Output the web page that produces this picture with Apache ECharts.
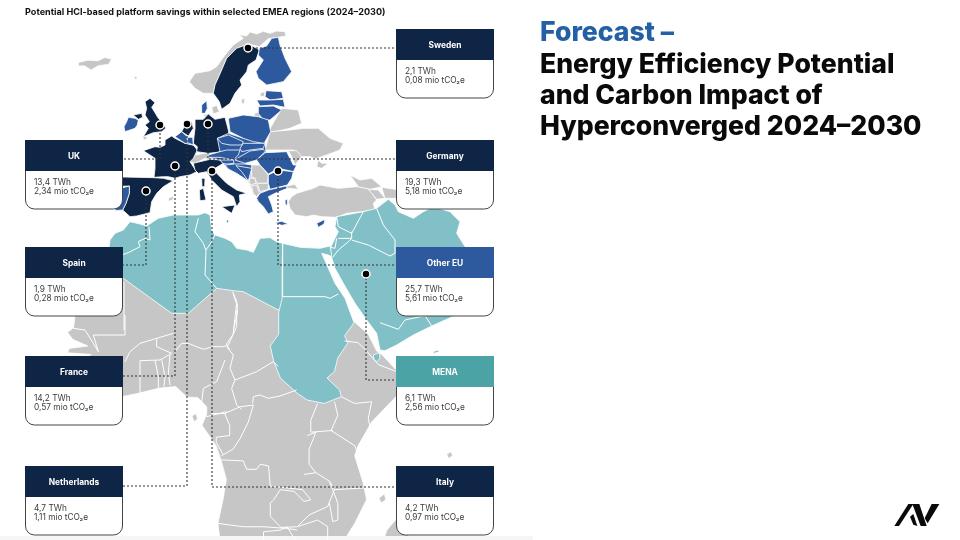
<!DOCTYPE html>
<html><head><meta charset="utf-8">
<style>html,body{margin:0;padding:0;background:#fff}#c{width:960px;height:540px}</style>
<script src="https://cdn.jsdelivr.net/npm/echarts@6/dist/echarts.min.js"></script></head>
<body><div id="c"></div>
<script>
// ---------- chart values ----------
const regions = ['Sweden','UK','Germany','Spain','Other EU','France','MENA','Netherlands','Italy'];
const twh     = ['2,1','13,4','19,3','1,9','25,7','14,2','6,1','4,7','4,2'];
const co2     = ['0,08','2,34','5,18','0,28','5,61','0,57','2,56','1,11','0,97'];
const chartTitle = 'Potential HCI-based platform savings within selected EMEA regions (2024–2030)';
const headline = ['Forecast –','Energy Efficiency Potential','and Carbon Impact of','Hyperconverged 2024–2030'];

// ---------- map geometry (hand traced, in map units) ----------
const crop=(ox,oy,s)=>(a)=>{const r=[];for(let i=0;i<a.length;i+=2)r.push([ox+a[i]/s,oy+a[i+1]/s]);return r;};
const Z1=crop(0,0,2.96),Z2=crop(0,270,2.96),E=crop(100,30,3),C=crop(200,100,3),A=crop(100,200,3),Q=crop(280,170,3),W=crop(60,310,3);
const gray=[
 Z1([232,185,260,178,290,180,310,170,330,175,322,190,290,195,270,207,250,195,232,195]),
 Z1([396,226,406,228,404,235,398,233]),
 E([340,190,310,190,285,175,268,155,285,130,330,122,350,110,375,75,400,45,430,25,418,14,440,18,450,6,470,12,490,4,510,10,530,3,555,5,558,18,535,22,505,26,478,50,445,42,410,55,380,85,365,120,345,165]),
 E([425,208,435,205,432,222,424,220]),E([482,188,495,185,492,200,480,198]),E([335,232,350,226,358,245,340,252]),E([310,255,330,250,330,258,315,260]),
 E([205,505,222,498,218,510,206,514]),E([128,318,142,322,138,330,130,328]),
 E([462,250,490,245,492,262,465,262]),
 E([265,395,285,375,325,368,345,378,335,390,315,385,285,400]),
 C([108,197,155,195,180,195,205,225,205,268,180,280,160,285,150,255,125,215]),
 C([205,95,245,25,295,30,305,70,270,85,225,95]),
 C([195,150,210,95,270,90,310,85,355,85,390,115,430,130,420,150,380,165,350,175,365,190,385,190,365,205,350,200,355,180,330,170,295,170,280,150,230,150]),
 C([265,152,290,152,305,170,285,195,275,170]),
 C([108,197,155,205,155,230,145,243,125,215]),
 C([155,195,180,195,205,225,202,250,170,250,165,235,155,230]),
 C([148,235,165,235,168,250,150,255]),C([155,258,170,255,178,280,170,290,160,280]),C([172,250,205,250,205,268,180,275]),
 C([258,258,285,253,295,268,262,265]),
 C([265,305,275,290,290,280,340,265,360,255,415,265,470,260,505,265,530,300,520,310,525,330,485,335,440,340,410,352,365,350,340,345,320,350,285,345,270,325]),
 C([450,225,480,240,515,235,545,260,510,268,475,260]),C([505,268,535,270,555,295,530,298]),C([545,262,600,270,600,295,555,295]),
 [...Z2([230,-30,222,135,218,170,200,185,215,205,260,225,205,232,200,245,270,250,250,260,250,372,360,375,410,365,470,350,520,345,553,376,586,378,612,405,612,425,598,460,640,520,655,565,670,620,660,680,645,750,655,830,1000,830,1050,750,1085,680,1075,630,1050,550,1060,520,1100,450,1172,375,1300,300,1250,285,1170,293,1130,250,1115,240,1090,190,1045,150,1030,150,950,0,830,-40])],
 Z2([568,432,580,425,585,440,575,450]),Z2([1322,545,1335,538,1340,550,1328,558]),Z2([1122,675,1138,662,1142,680,1128,690]),
 Z2([1175,735,1210,725,1210,800,1130,815,1145,770]),Z2([1335,800,1350,795,1345,812,1332,812]),
];
const navy=[
 E([445,42,470,55,478,60,468,90,445,105,440,125,420,150,425,165,405,190,390,220,365,238,358,215,340,190,345,165,365,120,380,85,410,55]),
 E([135,215,150,205,165,218,155,232,165,248,175,265,190,280,197,295,185,305,160,308,130,320,145,295,135,285,148,275,135,255,140,235]),
 E([100,255,125,250,128,262,115,268]),
 E([215,318,225,325,255,340,280,345,292,360,280,385,270,395,290,425,270,435,240,440,225,445,205,440,190,440,162,442,165,415,165,385,130,362,165,350,180,352,195,345,195,330]),
 E([30,440,162,443,190,445,220,452,190,470,170,490,155,515,150,548,110,558,90,560,68,540,78,520,88,490,88,468,30,470]),
 E([245,305,255,285,275,275,280,295,265,318]),
 E([285,268,310,268,325,252,345,268,375,262,385,300,388,320,355,325,362,345,370,365,325,370,290,365,292,350,280,340,282,320,285,295]),
 E([280,400,330,388,365,390,370,400,345,415,350,430,380,460,410,480,440,490,418,495,420,515,410,530,400,500,365,480,335,450,320,425,295,430,285,420]),
 E([365,530,405,525,395,550]),E([298,480,310,475,318,510,300,512]),E([305,445,315,445,314,470,306,470]),
];
const blue=[
 C([52,115,85,100,130,115,195,125,198,155,170,180,135,190,155,205,145,243,110,220,85,207,60,180,25,172,60,155]),
 E([478,55,500,48,515,25,535,22,540,45,555,85,575,125,550,155,500,165,475,145,468,125,490,90,475,75]),
 E([85,262,105,265,115,270,112,285,105,295,75,305,72,290,80,275]),
 E([88,468,88,490,78,520,68,540,45,542,55,500,62,475]),
 E([225,320,245,305,262,320,262,335,280,345,255,340]),E([262,322,278,322,280,345,262,338]),
 E([305,250,305,225,320,212,322,235,315,250]),
 E([498,182,545,185,550,205,510,210,495,200]),E([470,210,510,210,550,208,555,232,520,225,480,228]),E([475,230,520,228,545,240,510,270,490,270,475,250]),
 C([85,55,130,45,175,50,205,60,212,95,195,125,190,130,160,125,130,115,90,95]),
 C([52,115,85,105,130,125,125,135,90,135,65,130]),
 C([130,130,195,130,190,145,150,150,125,155,120,145]),
 C([25,165,60,155,80,150,120,150,115,165,100,180,60,172,25,172]),
 C([120,170,150,153,190,148,195,155,170,180,135,190,105,180]),
 C([60,180,100,180,102,190,80,192,68,190]),
 C([75,195,105,192,135,192,155,195,155,205,108,197,125,215,145,243,110,220,85,207]),
 C([195,158,260,155,280,195,290,195,280,215,235,205,205,222,180,195,170,180]),
 C([205,225,235,210,280,215,275,235,262,255,210,268,205,250]),
 C([170,295,180,280,205,270,258,258,262,265,225,280,205,290,215,315,220,335,205,342,190,320,175,305]),
 C([225,368,245,364,265,372,245,376]),C([350,370,375,358,372,372,355,382]),C([255,300,262,298,262,315,256,315]),C([80,360,85,360,85,368,80,368]),
];
const teal=[
 A([30,120,45,100,70,90,90,65,120,72,140,78,175,55,220,45,260,45,295,45,315,38,330,45,335,90,345,105,375,115,395,125,410,145,440,150,460,157,480,115,510,113,530,125,548,130,548,322,535,330,430,275,400,272,350,265,265,340,215,340,70,235,20,200]),
 [...Q([8,220,60,232,120,235,150,228,158,262,145,255,125,250,165,340,195,385,222,458]),...Z2([1020,195,1030,215,1000,260,990,300,968,320,1005,355,1010,375,960,395,910,385,880,365,830,320,810,270,800,225,825,190,825,125,835,85,835,0])],
 Q([165,205,175,185,165,170,170,140,250,125,290,115,325,88,345,105,355,125,400,145,430,125,460,110,510,125,540,155,530,190,555,230,600,260,640,420,540,430,500,448,455,468,400,495,350,525,315,542,300,540,290,490,260,450,225,400,190,340,165,295,155,262,152,232]),
 Q([458,545,475,540,478,545,462,550]),Q([280,555,298,548,300,565,290,575,282,570]),
];
const innerBorders=[
 W([195,15,195,75,100,75,115,125]),W([40,55,75,60,100,100,115,125]),W([195,155,210,125,240,100,290,85,340,70]),W([290,85,290,110,335,130]),
 W([335,130,300,150,240,152,240,200,240,250]),W([285,150,295,200,295,235]),W([305,148,315,200,312,230]),W([330,135,325,190,330,225]),
 W([345,125,365,100,385,100,430,118,460,110,490,110,505,105,530,50,530,0]),
 W([500,110,520,135,510,175,525,210,590,185,640,155,655,170]),W([495,150,470,215,430,235,425,280,440,320,500,305]),W([525,210,515,235,530,285,545,298]),W([578,280,580,260,600,255,625,265,660,258,710,240]),
 Z2([625,425,665,425,680,460,680,490,640,495,640,510,660,545]),Z2([710,405,665,425]),Z2([750,400,735,450,710,500,690,530,655,550]),Z2([710,405,750,400]),
 Z2([655,562,720,565,730,590,760,590,770,575,795,580,800,640,895,650,920,680,900,685,870,655,830,650,810,680,800,690,800,730,830,760]),
 Z2([900,605,935,600,975,625,990,650,970,700,915,725,880,760,830,762]),Z2([915,540,915,575,935,600]),Z2([910,490,935,480,915,530,915,540]),Z2([940,395,920,445,920,480,985,475]),
 Z2([990,390,1000,430,980,475,1050,520,1060,545]),Z2([1010,375,1050,395,1100,390,1090,440,1100,485]),Z2([1020,210,1060,215,1085,240,1120,280,1172,300]),
 Z2([990,650,1085,645]),Z2([975,625,1000,690,1000,740,985,745,975,690]),Z2([645,750,720,760,780,760,850,765,880,770]),Z2([780,830,780,775,830,770,850,760,880,810]),Z2([880,760,940,740,970,760,970,830]),
 Z2([690,70,700,100,690,190,670,220,680,235]),
 A([65,165,85,158,120,140,115,125,135,115,150,120,147,80]),A([295,55,285,95,310,130,318,152,315,225,350,265]),A([318,150,335,125,345,105]),A([398,275,412,310,412,340,400,390]),A([72,245,72,390]),
 Q([8,220,8,380,135,380,150,385,175,372]),
 Q([170,140,175,170,215,190,250,125]),Q([215,185,215,205,175,205]),Q([215,210,265,225,330,258,345,250]),Q([290,115,310,165,345,210,345,250]),Q([158,262,175,240,205,215,215,205]),Q([152,232,165,235,170,205]),
 Q([300,458,355,478,375,450,435,437,455,468]),
];
const shapeSets={gray,navy,blue,teal};
const fills={gray:'#c6c6c6',navy:'#0f2545',blue:'#2d5a9e',teal:'#80c0c6'};
const hubs=[[248,48],[160,125],[208,124],[146,191],[278,171],[175,166],[366,274],[187,124],[212,171]];
const routes=[
 [[248,48],[396,48]],[[160,125],[160,159],[122,159]],[[208,124],[208,159],[396,159]],[[146,191],[146,265],[122,265]],
 [[278,171],[278,265],[396,265]],[[175,166],[175,376],[122,376]],[[366,274],[366,380],[396,380]],[[187,124],[187,486],[122,486]],[[212,171],[212,487],[396,487]]];

// ---------- build map ----------
const features=[];const regionStyles=[];
Object.keys(shapeSets).forEach(g=>shapeSets[g].forEach((pts,i)=>{
 const name=g+i;
 features.push({type:'Feature',properties:{name},geometry:{type:'Polygon',coordinates:[[...pts,pts[0]]]}});
 regionStyles.push({name,itemStyle:{areaColor:fills[g]}});
}));
echarts.registerMap('emea',{type:'FeatureCollection',features});

// ---------- card layout ----------
const cardPos={Sweden:[396,29],UK:[25,140],Germany:[396,140],Spain:[25,247],'Other EU':[396,247],France:[25,356],MENA:[396,356],Netherlands:[25,466],Italy:[396,466]};
const headFill={'Other EU':'#2d5a9e',MENA:'#4ba3a5'};
const FONT='Inter, "Open Sans", sans-serif';
const g=[];
regions.forEach((r,i)=>{
 const [x,y]=cardPos[r];
 g.push({type:'rect',z:100,shape:{x:x+.5,y:y+10,width:97,height:59,r:[0,0,9,9]},style:{fill:'#fff',stroke:'#444',lineWidth:1}});
 g.push({type:'rect',z:101,shape:{x,y,width:98,height:31},style:{fill:headFill[r]||'#0f2545'}});
 g.push({type:'text',z:102,style:{x:x+49,y:y+16.5,text:r,fill:'#fff',font:'700 8.4px '+FONT,textAlign:'center',textVerticalAlign:'middle'}});
 g.push({type:'text',z:102,style:{x:x+9,y:y+43,text:twh[i]+' TWh',fill:'#3a3a3a',font:'400 8.3px '+FONT,textVerticalAlign:'middle'}});
 g.push({type:'text',z:102,style:{x:x+9,y:y+52,text:co2[i]+' mio tCO₂e',fill:'#3a3a3a',font:'400 8.3px '+FONT,textVerticalAlign:'middle'}});
});
g.push({type:'text',z:102,style:{x:25,y:12.5,text:chartTitle,fill:'#111',font:'700 9.1px '+FONT,textVerticalAlign:'middle'}});
const hy=[33,64.5,96,127];
headline.forEach((t,i)=>g.push({type:'text',z:102,style:{x:540,y:hy[i],text:t,fill:i?'#0a0a0a':'#2360a5',font:'800 26.6px '+FONT,textVerticalAlign:'middle'}}));
const L=crop(880,490,3);
[[85,42,100,42,57,108,43,108],[97,42,118,42,140,108,122,108],[90,80,100,72,112,108,100,104],[155,42,178,42,143,100,134,85]].forEach(a=>
 g.push({type:'polygon',z:102,shape:{points:L(a)},style:{fill:'#0a0a0a'}}));
g.push({type:'rect',z:1,shape:{x:0,y:536,width:533,height:4},style:{fill:'#f6f6f6'}});

const chart=echarts.init(document.getElementById('c'),null,{renderer:'canvas'});
chart.setOption({
 animation:false,backgroundColor:'#fff',
 geo:{map:'emea',silent:true,roam:false,left:0,top:0,right:0,bottom:0,
  projection:{project:p=>p,unproject:p=>p},
  boundingCoords:[[0,0],[960,540]],
  itemStyle:{areaColor:fills.gray,borderColor:'#fff',borderWidth:.8},
  label:{show:false},regions:regionStyles},
 graphic:{elements:g},
 series:[
  {type:'lines',coordinateSystem:'geo',polyline:true,silent:true,z:3,lineStyle:{color:'#fff',width:1,opacity:1},data:innerBorders.map(c=>({coords:c}))},
  {type:'lines',coordinateSystem:'geo',polyline:true,silent:true,z:4,lineStyle:{color:'#333',width:1.1,opacity:1,type:[2,2]},data:routes.map(c=>({coords:c}))},
  {type:'scatter',coordinateSystem:'geo',silent:true,z:5,symbolSize:8,itemStyle:{color:'#000',borderColor:'#fff',borderWidth:1.5,opacity:1},data:hubs}
 ]
});
</script></body></html>
